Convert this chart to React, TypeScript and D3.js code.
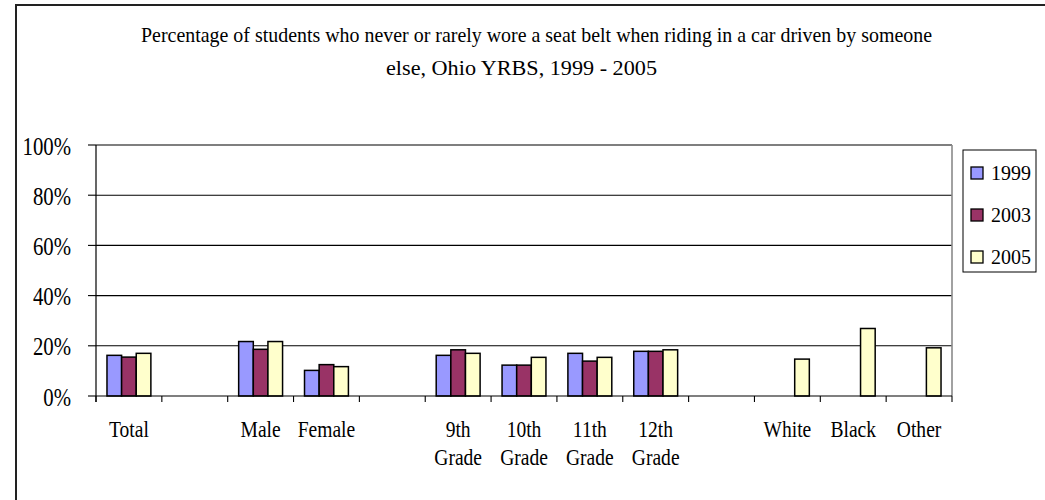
import React from "react";
import * as d3 from "d3";

const categories: string[][] = [
  ["Total"], [""], ["Male"], ["Female"], [""],
  ["9th", "Grade"], ["10th", "Grade"], ["11th", "Grade"], ["12th", "Grade"], [""],
  ["White"], ["Black"], ["Other"],
];
const seriesNames = ["1999", "2003", "2005"];
const seriesColors = ["#9999FF", "#993366", "#FFFFCC"];
const v1999: (number | null)[] = [16.2, null, 21.7, 10.2, null, 16.2, 12.3, 17.0, 17.8, null, null, null, null];
const v2003: (number | null)[] = [15.5, null, 18.6, 12.5, null, 18.4, 12.3, 13.9, 17.8, null, null, null, null];
const v2005: (number | null)[] = [17.0, null, 21.7, 11.7, null, 17.0, 15.4, 15.4, 18.4, null, 14.7, 26.9, 19.2];
const yTicks = [0, 20, 40, 60, 80, 100];
const titleLines = [
  "Percentage of students who never or rarely wore a seat belt when riding in a car driven by someone",
  "else, Ohio YRBS, 1999 - 2005",
];

const W = 1045;
const H = 500;
const left = 96, right = 952, top = 145, bottom = 396;
const FONT = "Liberation Serif, serif";

export default function App() {
  const series = [v1999, v2003, v2005];
  const x = d3.scaleBand<number>().domain(d3.range(categories.length)).range([left, right]).paddingInner(0).paddingOuter(0);
  const xi = d3.scaleBand<number>().domain([0, 1, 2]).range([0, x.bandwidth()]).paddingInner(0).paddingOuter(0.75);
  const y = d3.scaleLinear().domain([0, 100]).range([bottom, top]);
  const slotEdges = d3.range(categories.length + 1).map((i) => left + i * x.step());

  return (
    <svg width={W} height={H} style={{ position: "absolute", left: 0, top: 0, background: "#fff" }} fontFamily={FONT}>
      <rect x={0} y={0} width={W} height={H} fill="#fff" />
      {/* outer chart border */}
      <rect x={16} y={5} width={1200} height={800} fill="none" stroke="#222" strokeWidth={2} />

      {/* title */}
      <text x={141} y={42} fontFamily={FONT} fontSize={22} textLength={791} lengthAdjust="spacingAndGlyphs" fill="#000">{titleLines[0]}</text>
      <text x={386} y={75} fontFamily={FONT} fontSize={22} textLength={271} lengthAdjust="spacingAndGlyphs" fill="#000">{titleLines[1]}</text>

      {/* gridlines */}
      {yTicks.filter((t) => t > 0).map((t) => (
        <line key={t} x1={left} x2={right} y1={y(t)} y2={y(t)} stroke="#000" strokeWidth={1.1} />
      ))}
      {/* right plot border */}
      <line x1={right} x2={right} y1={top} y2={bottom} stroke="#8a8a8a" strokeWidth={1.6} />

      {/* bars */}
      {series.map((vals, si) =>
        vals.map((v, ci) =>
          v == null ? null : (
            <rect
              key={`${si}-${ci}`}
              x={(x(ci) as number) + (xi(si) as number)}
              y={y(v)}
              width={xi.bandwidth()}
              height={bottom - y(v)}
              fill={seriesColors[si]}
              stroke="#000"
              strokeWidth={1.5}
            />
          )
        )
      )}

      {/* axes */}
      <line x1={left} x2={left} y1={top} y2={bottom + 6} stroke="#000" strokeWidth={1.2} />
      <line x1={left} x2={right} y1={bottom} y2={bottom} stroke="#000" strokeWidth={1.2} />
      {yTicks.map((t) => (
        <line key={t} x1={left - 8} x2={left} y1={y(t)} y2={y(t)} stroke="#000" strokeWidth={1.1} />
      ))}
      {slotEdges.map((ex, i) => (
        <line key={i} x1={ex} x2={ex} y1={bottom} y2={bottom + 6} stroke="#000" strokeWidth={1.1} />
      ))}

      {/* y labels */}
      {yTicks.map((t) => (
        <g key={t} transform={`translate(71,${y(t) + 9.5}) scale(0.8,1)`}>
          <text x={0} y={0} fontFamily={FONT} fontSize={26} textAnchor="end" fill="#000">{`${t}%`}</text>
        </g>
      ))}

      {/* category labels */}
      {categories.map((lines, ci) =>
        lines.map((ln, li) =>
          ln ? (
            <g key={`${ci}-${li}`} transform={`translate(${(x(ci) as number) + x.bandwidth() / 2},${437 + li * 28}) scale(0.85,1)`}>
              <text x={0} y={0} fontFamily={FONT} fontSize={23} textAnchor="middle" fill="#000">{ln}</text>
            </g>
          ) : null
        )
      )}

      {/* legend */}
      <rect x={963} y={150} width={73} height={122} fill="#fff" stroke="#000" strokeWidth={1} />
      {seriesNames.map((nm, si) => (
        <g key={nm} transform={`translate(0,${si * 42})`}>
          <rect x={971} y={167} width={12} height={12} fill={seriesColors[si]} stroke="#000" strokeWidth={1.3} />
          <text x={991} y={179.5} fontFamily={FONT} fontSize={20} fill="#000">{nm}</text>
        </g>
      ))}
    </svg>
  );
}
